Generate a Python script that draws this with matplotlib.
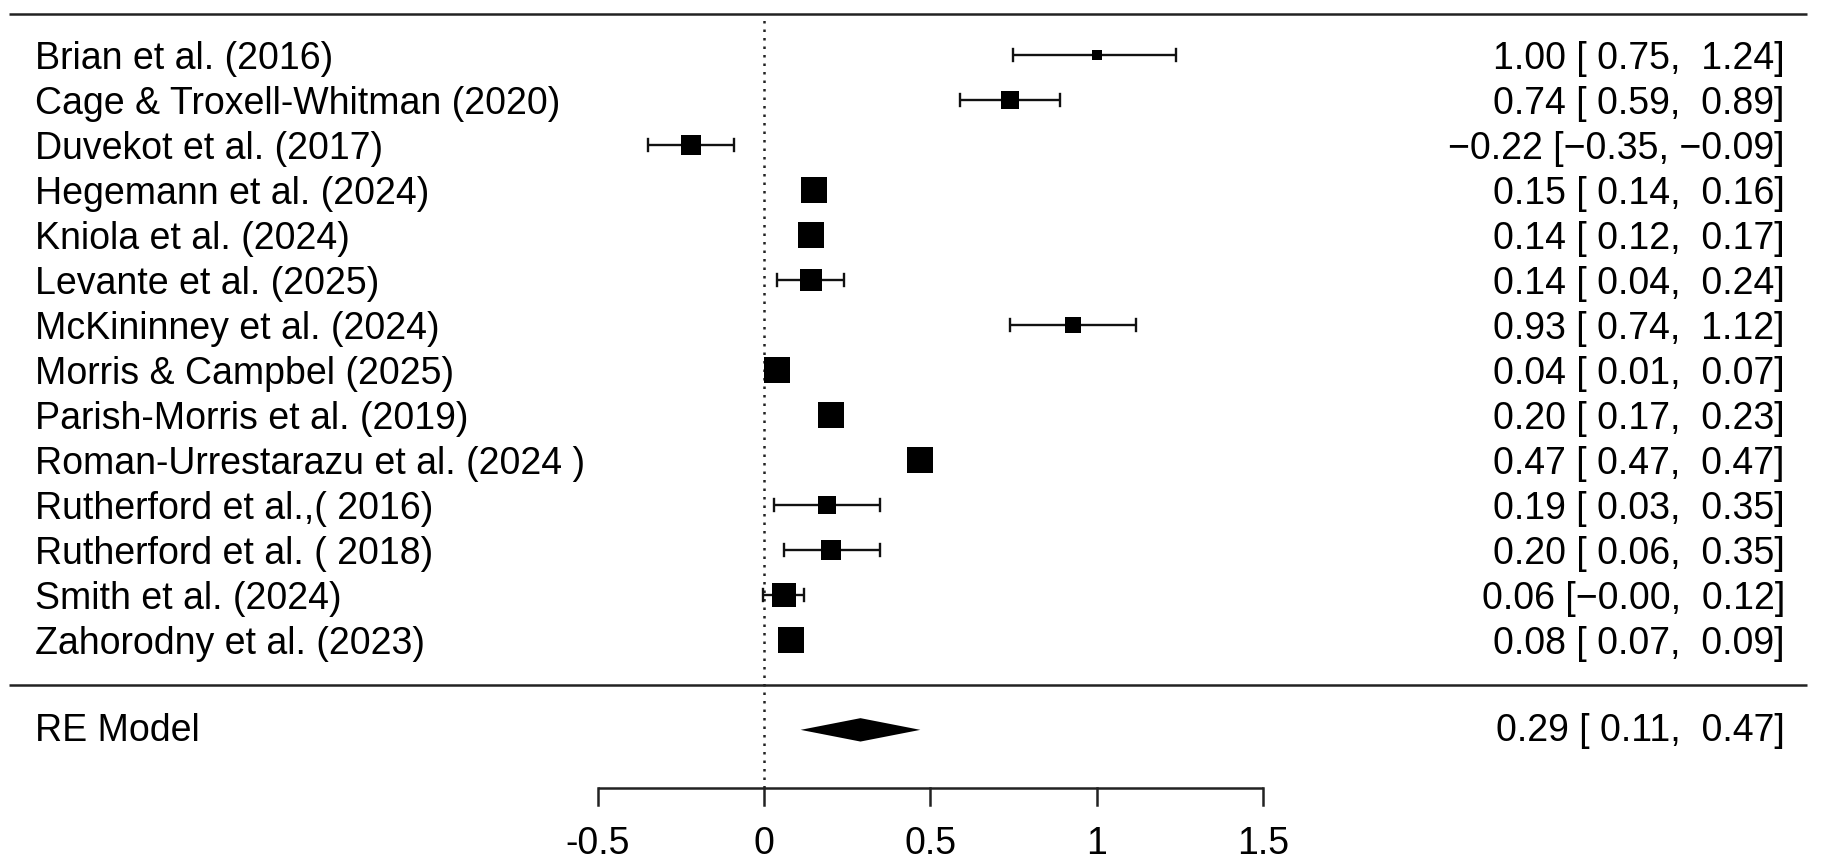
import matplotlib
matplotlib.use("Agg")
import matplotlib.pyplot as plt

# study data
studies = ["Brian et al. (2016)", "Cage & Troxell-Whitman (2020)", "Duvekot et al. (2017)",
           "Hegemann et al. (2024)", "Kniola et al. (2024)", "Levante et al. (2025)",
           "McKininney et al. (2024)", "Morris & Campbel (2025)", "Parish-Morris et al. (2019)",
           "Roman-Urrestarazu et al. (2024 )", "Rutherford et al.,( 2016)", "Rutherford et al. ( 2018)",
           "Smith et al. (2024)", "Zahorodny et al. (2023)"]
est = [1.00, 0.74, -0.22, 0.15, 0.14, 0.14, 0.93, 0.04, 0.20, 0.47, 0.19, 0.20, 0.06, 0.08]
ci_lo = [0.75, 0.59, -0.35, 0.14, 0.12, 0.04, 0.74, 0.01, 0.17, 0.47, 0.03, 0.06, -0.004, 0.07]
ci_hi = [1.24, 0.89, -0.09, 0.16, 0.17, 0.24, 1.12, 0.07, 0.23, 0.47, 0.35, 0.35, 0.12, 0.09]
# approximate random-effects weights (%)
weights = [6.49, 7.00, 7.09, 7.35, 7.34, 7.20, 6.81, 7.35, 7.34, 7.35, 6.96, 7.03, 7.30, 7.35]

re_label = "RE Model"
re_est, re_lo, re_hi = 0.29, 0.11, 0.47

xticks = [-0.5, 0, 0.5, 1, 1.5]
xtick_labels = ["-0.5", "0", "0.5", "1", "1.5"]

plt.rcParams['font.family'] = ['Liberation Sans', 'DejaVu Sans']
FS = 27

fig = plt.figure(figsize=(18.26, 8.68), dpi=100)
ax = fig.add_axes([0, 0, 1, 1])
ax.set_xlim(-2.298, 3.194)
ax.set_ylim(-4.07, 15.22)
ax.axis('off')

k = len(studies)
rows = list(range(k, 0, -1))

def fmt(v):
    return f"{v:5.2f}".replace("-", "\u2212")

# horizontal rules
ax.plot([-2.27, 3.137], [14.9, 14.9], color='#222222', lw=1.8, solid_capstyle='butt')
ax.plot([-2.27, 3.137], [0, 0], color='#222222', lw=1.8, solid_capstyle='butt')

# reference line at 0
ax.plot([0, 0], [-2.29, 14.9], color='#222222', lw=1.8, linestyle=(0, (1, 2.4)))

# point sizes like metafor (plim 0.5..1.5)
wmin, wmax = min(weights), max(weights)
base_px = 17.3
cap = 0.13
for i in range(k):
    y = rows[i]
    ax.plot([ci_lo[i], ci_hi[i]], [y, y], color='#111111', lw=1.7, solid_capstyle='butt')
    for xe in (ci_lo[i], ci_hi[i]):
        ax.plot([xe, xe], [y - cap, y + cap], color='#111111', lw=1.7)
    ps = (weights[i] - wmin) / (wmax - wmin) + 0.5
    ax.plot([est[i]], [y], marker='s', ms=max(base_px * ps, 9.5) * 0.72, color='black',
            markeredgewidth=0, linestyle='none')
    ax.text(-2.193, y, studies[i], fontsize=FS, ha='left', va='center_baseline')
    ax.text(3.07, y, f"{est[i]:.2f}".replace("-", "\u2212") + f" [{fmt(ci_lo[i])}, {fmt(ci_hi[i])}]",
            fontsize=FS, ha='right', va='center_baseline')

# summary diamond
ax.fill([re_lo, re_est, re_hi, re_est], [-1, -1 + 0.26, -1, -1 - 0.26], color='black', lw=0)
ax.text(-2.193, -0.93, re_label, fontsize=FS, ha='left', va='center_baseline')
ax.text(3.07, -0.93, f"{re_est:.2f} [{fmt(re_lo)}, {fmt(re_hi)}]", fontsize=FS,
        ha='right', va='center_baseline')

# x axis
ax.plot([xticks[0], xticks[-1]], [-2.29, -2.29], color='#222222', lw=1.8, solid_capstyle='butt')
for t, lab in zip(xticks, xtick_labels):
    ax.plot([t, t], [-2.29, -2.68], color='#222222', lw=1.8)
    ax.text(t, -3.44, lab, fontsize=FS, ha='center', va='center_baseline')

fig.savefig("out.png", dpi=100)
